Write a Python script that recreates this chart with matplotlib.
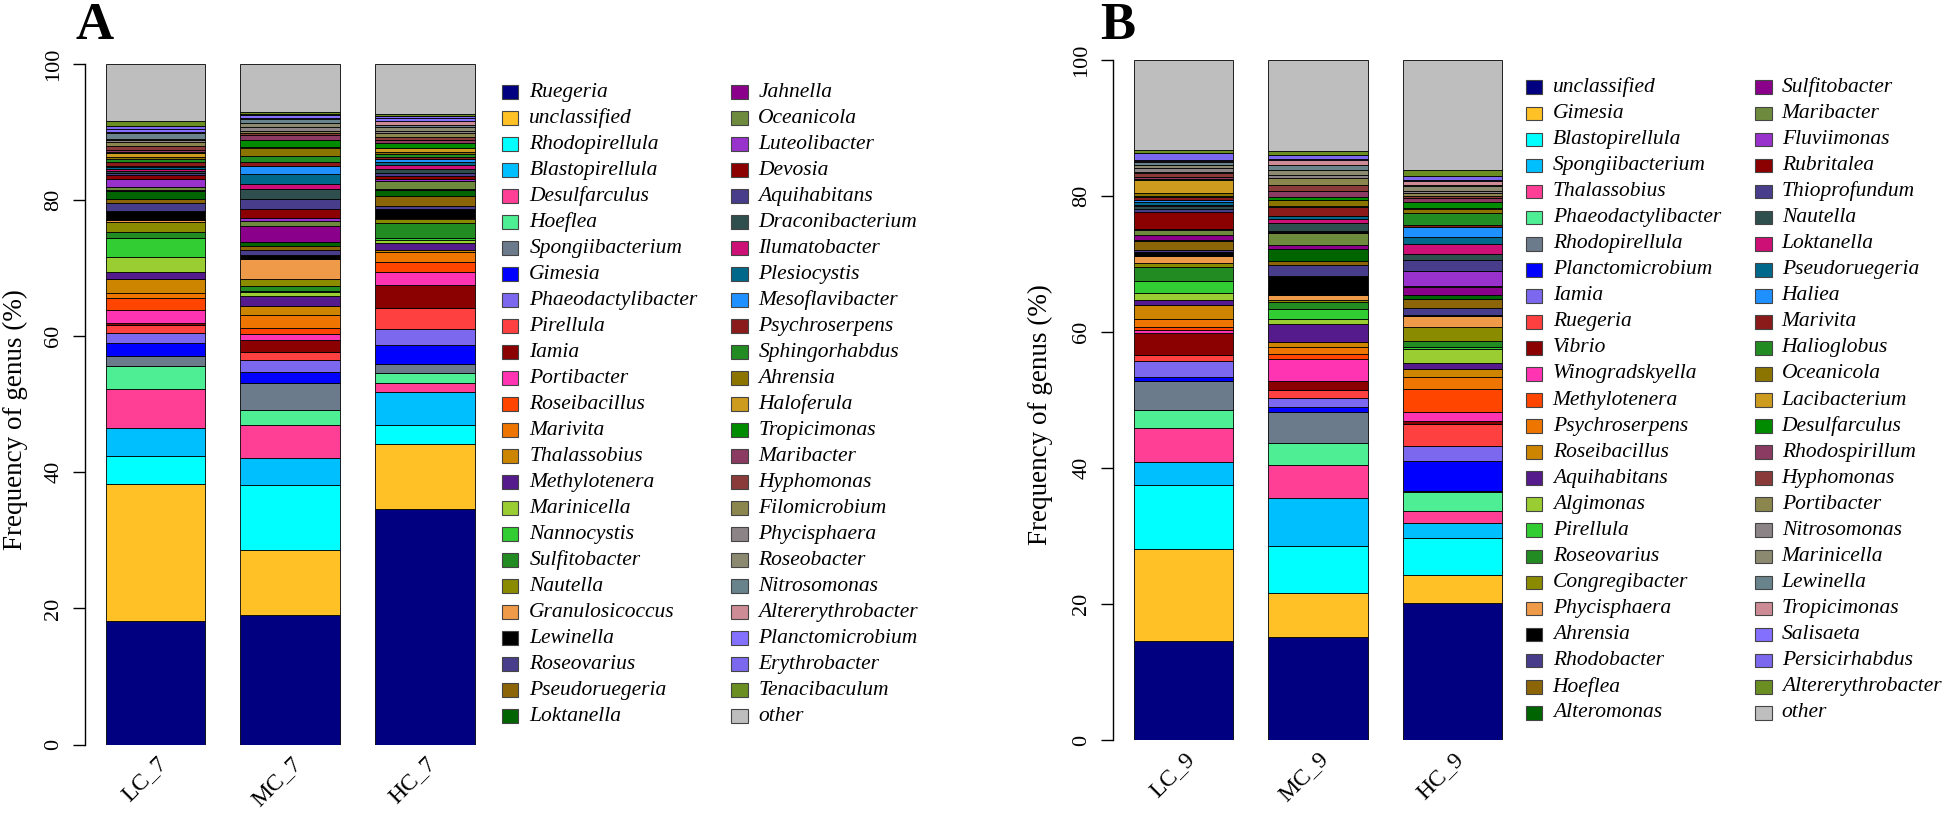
import numpy as np
import matplotlib
matplotlib.use("Agg")
import matplotlib.pyplot as plt
from matplotlib.patches import Rectangle

plt.rcParams['font.family'] = ['Liberation Serif', 'DejaVu Serif']

# ---- panel A: 7 (genus relative abundance, %) ----
samples_A = ["LC_7", "MC_7", "HC_7"]
genera_A = ["Ruegeria", "unclassified", "Rhodopirellula", "Blastopirellula", "Desulfarculus",
            "Hoeflea", "Spongiibacterium", "Gimesia", "Phaeodactylibacter", "Pirellula",
            "Iamia", "Portibacter", "Roseibacillus", "Marivita", "Thalassobius",
            "Methylotenera", "Marinicella", "Nannocystis", "Sulfitobacter", "Nautella",
            "Granulosicoccus", "Lewinella", "Roseovarius", "Pseudoruegeria", "Loktanella",
            "Jahnella", "Oceanicola", "Luteolibacter", "Devosia", "Aquihabitans",
            "Draconibacterium", "Ilumatobacter", "Plesiocystis", "Mesoflavibacter", "Psychroserpens",
            "Sphingorhabdus", "Ahrensia", "Haloferula", "Tropicimonas", "Maribacter",
            "Hyphomonas", "Filomicrobium", "Phycisphaera", "Roseobacter", "Nitrosomonas",
            "Altererythrobacter", "Planctomicrobium", "Erythrobacter", "Tenacibaculum", "other"]
LC_7 = [18.1, 20.2, 4.15, 4.05, 5.7, 3.4, 1.45, 1.9, 1.45, 1.2,
        0.4, 1.85, 1.7, 0.75, 2.05, 1.15, 2.2, 2.8, 0.75, 1.6,
        0.2, 1.3, 1.2, 0.65, 1.1, 0.2, 0.4, 1.15, 0.65, 0.35,
        0.25, 0.3, 0.25, 0.2, 0.6, 0.35, 0.35, 0.5, 0.25, 0.25,
        0.6, 0.6, 0.25, 0.25, 0.75, 0.2, 0.45, 0.4, 0.75, 8.4]
MC_7 = [19.1, 9.5, 9.5, 4.0, 4.85, 2.15, 4.05, 1.55, 1.85, 1.2,
        1.75, 0.75, 0.95, 1.95, 1.25, 1.5, 0.55, 0.2, 0.8, 0.95,
        2.95, 0.55, 0.7, 0.65, 0.6, 2.35, 0.7, 0.5, 1.3, 1.4,
        1.5, 0.7, 1.5, 1.25, 0.5, 0.95, 1.15, 0.15, 1.05, 0.65,
        0.35, 0.25, 0.6, 0.65, 0.5, 0.15, 0.45, 0.25, 0.2, 7.1]
HC_7 = [34.6, 9.6, 2.8, 4.75, 1.35, 1.45, 1.4, 2.7, 2.35, 3.1,
        3.4, 1.9, 1.45, 1.45, 0.35, 1.1, 0.35, 0.4, 2.1, 0.65,
        0.1, 1.3, 0.55, 1.4, 0.95, 0.15, 1.1, 0.35, 0.35, 0.55,
        0.45, 0.7, 0.35, 0.5, 0.35, 0.35, 0.25, 0.7, 0.65, 0.55,
        0.3, 0.6, 0.3, 0.65, 0.25, 0.6, 0.4, 0.4, 0.3, 7.3]

# ---- panel B: 9 ----
samples_B = ["LC_9", "MC_9", "HC_9"]
genera_B = ["unclassified", "Gimesia", "Blastopirellula", "Spongiibacterium", "Thalassobius",
            "Phaeodactylibacter", "Rhodopirellula", "Planctomicrobium", "Iamia", "Ruegeria",
            "Vibrio", "Winogradskyella", "Methylotenera", "Psychroserpens", "Roseibacillus",
            "Aquihabitans", "Algimonas", "Pirellula", "Roseovarius", "Congregibacter",
            "Phycisphaera", "Ahrensia", "Rhodobacter", "Hoeflea", "Alteromonas",
            "Sulfitobacter", "Maribacter", "Fluviimonas", "Rubritalea", "Thioprofundum",
            "Nautella", "Loktanella", "Pseudoruegeria", "Haliea", "Marivita",
            "Halioglobus", "Oceanicola", "Lacibacterium", "Desulfarculus", "Rhodospirillum",
            "Hyphomonas", "Portibacter", "Nitrosomonas", "Marinicella", "Lewinella",
            "Tropicimonas", "Salisaeta", "Persicirhabdus", "Altererythrobacter", "other"]
LC_9 = [14.6, 13.5, 9.35, 3.45, 5.0, 2.7, 4.2, 0.6, 2.3, 0.9,
        3.2, 0.5, 0.4, 1.15, 2.15, 0.7, 1.1, 1.7, 2.0, 0.7,
        0.95, 0.65, 0.2, 1.35, 0.15, 0.7, 0.8, 0.15, 2.55, 0.45,
        0.35, 0.2, 0.4, 0.25, 0.55, 0.15, 0.45, 1.85, 0.2, 0.25,
        0.55, 0.25, 0.45, 0.45, 0.45, 0.2, 0.2, 0.9, 0.5, 13.25]
MC_9 = [15.2, 6.45, 6.95, 7.05, 4.85, 3.25, 4.55, 0.6, 1.45, 1.05,
        1.45, 3.15, 0.75, 1.1, 0.65, 2.7, 0.65, 1.6, 0.95, 0.35,
        0.7, 2.75, 1.7, 0.5, 1.75, 0.65, 1.7, 0.1, 0.1, 0.15,
        1.25, 0.5, 0.4, 0.1, 1.3, 0.1, 0.85, 0.1, 0.45, 0.9,
        0.75, 1.1, 0.45, 0.7, 0.75, 0.75, 0.15, 0.6, 0.55, 13.4]
HC_9 = [20.2, 4.05, 5.4, 2.2, 1.9, 2.7, 0.2, 4.45, 2.1, 3.2,
        0.55, 1.25, 3.4, 1.8, 1.2, 0.8, 2.05, 0.35, 0.9, 2.1,
        1.55, 0.15, 1.1, 1.3, 0.6, 1.15, 0.15, 2.1, 0.1, 1.6,
        0.85, 1.45, 1.0, 1.6, 0.3, 1.75, 0.5, 0.15, 0.95, 0.5,
        0.4, 0.45, 0.25, 0.65, 0.25, 0.5, 0.2, 0.55, 0.9, 16.2]

# same colour sequence for both panels
palette = ["#000080", "#FFC125", "#00FFFF", "#00BFFF", "#FF3E96",
           "#4EEE94", "#6C7B8B", "#0000FF", "#7B68EE", "#FF4040",
           "#8B0000", "#FF34B3", "#FF4500", "#EE7600", "#CD8500",
           "#551A8B", "#9ACD32", "#32CD32", "#228B22", "#8B8B00",
           "#EE9A49", "#000000", "#483D8B", "#8B6508", "#006400",
           "#8B008B", "#6E8B3D", "#9932CC", "#8B0000", "#483D8B",
           "#2F4F4F", "#CD1076", "#00688B", "#1E90FF", "#8B1A1A",
           "#228B22", "#8B7500", "#CD9B1D", "#008B00", "#8B3A62",
           "#8B3A3A", "#8B864E", "#8B8386", "#8B8970", "#68838B",
           "#CD8C95", "#8470FF", "#7B68EE", "#6B8E23", "#BEBEBE"]

W, H = 1946, 819
fig = plt.figure(figsize=(W / 100, H / 100), dpi=100)


def px_rect(x0, y_top, x1, y_bot):
    return [x0 / W, 1 - y_bot / H, (x1 - x0) / W, (y_bot - y_top) / H]


def stacked_panel(rect, samples, table, ylab_x, ylab_y):
    ax = fig.add_axes(rect)
    data = np.array(table)
    pos = np.arange(len(samples))
    bottom = np.zeros(len(samples))
    for i, col in enumerate(palette):
        ax.bar(pos, data[:, i], width=0.74, bottom=bottom, color=col,
               edgecolor="black", linewidth=0.6)
        bottom += data[:, i]
    ax.set_xlim(-0.525, 2.45)
    ax.set_ylim(0, 100)
    for s in ["top", "right", "bottom"]:
        ax.spines[s].set_visible(False)
    ax.spines["left"].set_linewidth(1.0)
    ax.set_yticks([0, 20, 40, 60, 80, 100])
    ax.tick_params(axis="y", length=8.6, width=1.0, labelsize=16, pad=7)
    for lab in ax.get_yticklabels():
        lab.set_rotation(90)
        lab.set_va("center")
    ax.set_xticks(pos)
    ax.set_xticklabels(samples, rotation=45, ha="right", rotation_mode="anchor", fontsize=17)
    ax.tick_params(axis="x", length=0, pad=6)
    fig.text(ylab_x / W, 1 - ylab_y / H, "Frequency of genus (%)", rotation=90,
             ha="center", va="center", fontsize=19.5)
    return ax


def draw_legend(names, x_sw, x_txt, y0, dy, nrow=25):
    for i, (name, col) in enumerate(zip(names, palette)):
        c, r = divmod(i, nrow)
        yc = y0 + r * dy
        fig.patches.append(Rectangle((x_sw[c] / W, 1 - (yc + 6.85) / H), 16.7 / W, 13.7 / H,
                                     transform=fig.transFigure, facecolor=col,
                                     edgecolor="#444444", linewidth=0.8))
        fig.text(x_txt[c] / W, 1 - yc / H, name, fontsize=15.5, style="italic",
                 ha="left", va="center")


stacked_panel(px_rect(85, 64, 485.5, 744.5), samples_A, [LC_7, MC_7, HC_7], 15, 420)
stacked_panel(px_rect(1113, 60, 1513, 740), samples_B, [LC_9, MC_9, HC_9], 1040, 415)

draw_legend(genera_A, [501.7, 731], [529.3, 758.3], 92.3, 26.0)
draw_legend(genera_B, [1525.7, 1755], [1552.7, 1781.7], 87.3, 26.06)

fig.text(75 / W, 1 - 39 / H, "A", fontsize=38, fontweight="bold", ha="left", va="baseline")
fig.text(1100 / W, 1 - 39 / H, "B", fontsize=38, fontweight="bold", ha="left", va="baseline")

fig.savefig("out.png", dpi=100)
